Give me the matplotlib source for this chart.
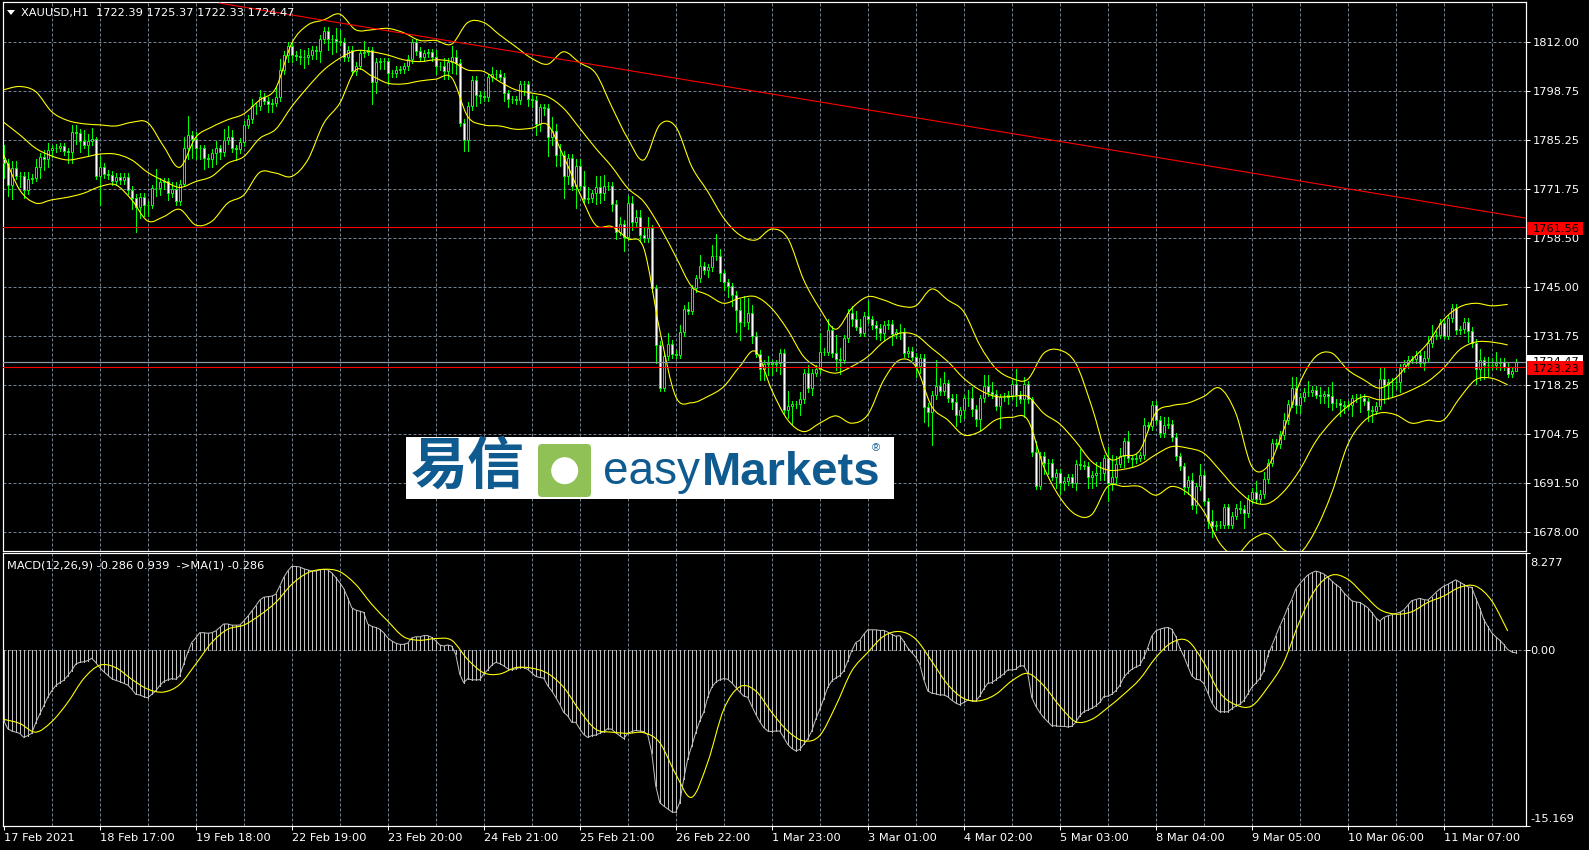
import numpy as np
import matplotlib
matplotlib.use('Agg')
import matplotlib.pyplot as plt
from matplotlib.path import Path
from matplotlib.patches import Rectangle, FancyBboxPatch, Circle, Polygon, PathPatch

W, H = 1589, 850

closes = [
    1779, 1773, 1777.5, 1775.5, 1775.5, 1771.5, 1774.5, 1775, 1778, 1780.6, 1780, 1782.5,
    1783, 1783.2, 1783.5, 1782.2, 1782, 1787.4, 1787.3, 1785, 1784, 1785, 1785.5, 1775.5,
    1778, 1776, 1775.7, 1774, 1775.2, 1774.2, 1775.2, 1771.6, 1769.4, 1767, 1769.8, 1767.5,
    1767.6, 1772, 1772.2, 1773.8, 1774, 1770.8, 1771.8, 1768.5, 1773.3, 1783, 1786.7, 1785.4,
    1783, 1783, 1780.3, 1780, 1781.8, 1783, 1782, 1785.3, 1786, 1783, 1782.8, 1784.7,
    1789.5, 1791, 1794.5, 1794.5, 1797, 1796, 1795, 1795.5, 1797, 1804.4, 1808.5, 1811,
    1808.5, 1808.2, 1808, 1808, 1808.5, 1809.9, 1809.5, 1812.9, 1815.2, 1812.9, 1812.8, 1812.4,
    1812.2, 1808, 1809.9, 1804, 1805.6, 1809, 1809.4, 1809.8, 1801.2, 1806.6, 1806.8, 1806.8,
    1803.5, 1803.5, 1804.5, 1804.6, 1805.4, 1807.4, 1812, 1809.6, 1808, 1809, 1809.2, 1807.9,
    1805.4, 1805.6, 1804, 1806.7, 1808, 1806.3, 1790, 1785.3, 1794.6, 1801.7, 1797.6, 1797.4,
    1797, 1802.4, 1803.3, 1803.4, 1802.6, 1798, 1796.4, 1796.4, 1796.2, 1800.5, 1800.5, 1796.5,
    1796.2, 1789.7, 1794.2, 1794, 1786, 1787.6, 1781.2, 1781.2, 1775.3, 1780.3, 1772.7, 1778.2,
    1772.7, 1769, 1769.3, 1770.7, 1772.3, 1770.9, 1772.7, 1772.7, 1767.8, 1760.2, 1762.3, 1758.8,
    1768, 1762.7, 1764.2, 1759.4, 1758.4, 1761.1, 1744.7, 1729.2, 1717.5, 1726.2, 1729.5, 1726.7,
    1726.5, 1732.7, 1739, 1738.6, 1744.7, 1747.4, 1750.8, 1749.7, 1750.4, 1753.5, 1753.4, 1748.8,
    1746.3, 1745.2, 1742.9, 1738.8, 1735.6, 1735.5, 1738, 1731.7, 1726.8, 1722.7, 1724, 1724.2,
    1724, 1724.2, 1727, 1711.3, 1712.5, 1713, 1713, 1714.4, 1721.6, 1717.4, 1721.6, 1722.6,
    1727.4, 1727.4, 1733.3, 1727, 1725.4, 1725.2, 1731, 1737.9, 1736.4, 1734.2, 1732.6, 1737.2,
    1736.2, 1734.7, 1733.8, 1732.5, 1734.7, 1734.9, 1732.2, 1732.7, 1732.8, 1726.9, 1727.6, 1726,
    1723.5, 1725.6, 1712.2, 1710.9, 1715.5, 1718.1, 1716.6, 1718.7, 1714.7, 1713.7, 1710, 1711.3,
    1714.6, 1714.8, 1711.7, 1709, 1714.6, 1718.1, 1716.2, 1715.8, 1712.4, 1714.9, 1715.1, 1715.5,
    1718.5, 1715.5, 1714.4, 1718.4, 1714.4, 1699.8, 1690.7, 1698.9, 1696.9, 1696.9, 1693.2, 1694.3,
    1691.5, 1692, 1693, 1691.4, 1696.7, 1696.4, 1696.2, 1693.2, 1693.7, 1694.3, 1694.3, 1698.2,
    1691.4, 1693.2, 1696.7, 1698.9, 1702.8, 1698.2, 1698, 1698.4, 1699, 1707.2, 1707, 1712.8,
    1708.7, 1705, 1707.4, 1707.6, 1704, 1698.7, 1696, 1690.3, 1692.3, 1685.3, 1690.5, 1693.7,
    1686.4, 1681, 1679.6, 1680, 1680, 1684.8, 1680, 1682.5, 1684.6, 1684.3, 1683.2, 1687.1,
    1689.1, 1687.1, 1688.4, 1692.5, 1697, 1702.4, 1702, 1704.6, 1708.7, 1713.1, 1717.4, 1712.7,
    1715, 1716.3, 1716.2, 1716.9, 1715.6, 1715.2, 1715.7, 1715.2, 1713.3, 1713.3, 1712.8, 1712.6,
    1712.8, 1714.6, 1714.8, 1714.8, 1713.8, 1711.5, 1711.2, 1712.6, 1719.9, 1718.3, 1719, 1719.2,
    1719.2, 1722.9, 1724, 1725.2, 1725.3, 1726.5, 1724.4, 1725.6, 1729.7, 1731.7, 1732, 1735.3,
    1731.7, 1736.5, 1739.3, 1733.3, 1733.5, 1735.6, 1733, 1729.7, 1722.6, 1725, 1723.8, 1723.7,
    1723.6, 1724.4, 1724.5, 1723.3, 1721.3, 1722.1, 1724.47,
]
first_open = 1780
wick_up = [
    4, 1, 2, 2, 1, 1, 2, 1, 2, 1, 2, 2,
    1, 1, 1, 1, 1, 2, 2, 1, 3, 2, 3, 0.5,
    3, 1, 1, 1, 1, 1, 1, 1, 1, 1, 1, 1,
    1, 1, 5, 1, 1, 1, 2, 2, 1, 3, 5, 1,
    2, 1, 1, 1, 1, 2, 1, 3, 3, 2, 1, 1,
    1, 1, 2, 1, 2, 1, 1, 1, 3, 3, 1, 1,
    1, 1, 2, 2, 2, 1, 1, 1, 1, 1, 1, 3,
    3, 1, 1, 1, 1, 1, 3, 1, 1, 1, 1, 1,
    1, 1, 1, 1, 1, 1, 1, 1, 1, 1, 1, 1,
    2, 1, 2, 1, 3, 2, 1, 1, 1, 1, 1, 1,
    1, 1, 2, 1, 1, 1, 1, 1, 1, 1, 1, 1,
    1, 1, 1, 1, 1, 4, 2, 3, 1, 1, 1, 2,
    2, 4, 3, 1, 3, 3, 3, 1, 1, 1, 2, 1,
    2, 2, 2, 2, 2, 3, 1, 1, 1, 1, 3, 1,
    1, 2, 1, 2, 1, 1, 3, 1, 1, 3, 6, 2,
    1, 1, 1, 1, 3, 7, 4, 2, 1, 1, 1, 2,
    1, 1, 1, 1, 4, 1, 1, 2, 1, 2, 1, 1,
    5, 1, 3, 1, 5, 3, 1, 1, 2, 2, 2, 1,
    4, 1, 1, 1, 1, 1, 1, 1, 2, 1, 1, 1,
    1, 1, 1, 1, 1, 7, 2, 3, 1, 1, 2, 1,
    1, 2, 3, 1, 1, 3, 3, 3, 1, 1, 1, 1,
    1, 4, 1, 2, 1, 0.5, 3, 1, 1, 1, 1, 1,
    1, 1, 1, 1, 1, 4, 1, 1, 1, 3, 3, 1,
    3, 6, 2, 2, 1, 3, 1, 1, 1, 2, 1, 1,
    1, 1, 2, 2, 1, 1, 1, 1, 1, 2, 1, 3,
    1, 1, 3, 1, 1, 1, 1, 1, 1, 2, 1, 1,
    1, 3, 1, 2, 1, 1, 1, 1, 2, 1, 3, 3,
    1, 1, 3, 1, 1, 2, 1, 2, 4, 1, 1, 1,
    1, 1, 1, 1, 1, 1, 1, 1, 3, 3, 1, 1,
    1, 1, 1, 1, 1, 1, 1, 2, 2, 3, 1, 1,
    1, 1, 1, 1, 1, 1, 1, 1, 1, 3, 1, 2,
    2, 3, 1, 1, 1, 1, 0.9,
]
wick_dn = [
    4, 3, 4, 1, 3, 2, 1, 1, 1, 3, 3, 2,
    2, 1, 1, 1, 3, 3, 3, 3, 1, 3, 1, 1,
    8, 1, 1, 1, 1, 1, 1, 1, 3, 7, 3, 3,
    3, 1, 2, 2, 2, 2, 1, 1, 1, 0.5, 3, 5,
    3, 3, 3, 2, 2, 3, 2, 1, 1, 1, 3, 1,
    1, 1, 1, 2, 1, 1, 2, 2, 1, 1, 1, 2,
    2, 1, 2, 3, 2, 1, 2, 3, 1, 3, 4, 3,
    1, 1, 1, 1, 1, 1, 1, 1, 6, 3, 2, 2,
    3, 1, 1, 1, 1, 1, 1, 1, 1, 1, 1, 1,
    2, 1, 2, 2, 3, 3, 1, 3, 3, 1, 3, 2,
    1, 1, 1, 1, 1, 2, 2, 1, 1, 1, 3, 2,
    2, 3, 2, 2, 5, 2, 3, 3, 6, 2, 1, 6,
    1, 1, 1, 1, 3, 3, 2, 1, 2, 2, 1, 4,
    1, 2, 1, 2, 1, 1, 1, 5, 1, 1, 1, 1,
    1, 1, 1, 1, 1, 1, 1, 1, 2, 1, 1, 2,
    2, 3, 3, 6, 5, 1, 2, 2, 1, 3, 3, 3,
    3, 2, 3, 1, 2, 5, 1, 3, 1, 1, 2, 1,
    1, 1, 1, 1, 3, 4, 1, 1, 2, 1, 1, 1,
    1, 1, 3, 2, 2, 1, 3, 1, 2, 1, 1, 1,
    3, 2, 4, 4, 9, 1, 1, 1, 1, 2, 3, 2,
    2, 2, 2, 2, 3, 1, 1, 1, 1, 6, 1, 2,
    1, 3, 1, 5, 1, 1, 1, 1, 3, 3, 1, 3,
    3, 2, 1, 1, 2, 1, 1, 3, 3, 3, 2, 2,
    5, 2, 2, 1, 3, 1, 2, 1, 1, 1, 1, 1,
    1, 1, 1, 1, 1, 1, 1, 2, 2, 1, 2, 1,
    1, 2, 3, 1, 1, 1, 1, 1, 1, 1, 4, 1,
    1, 1, 1, 1, 1, 1, 1, 1, 1, 1, 1, 2,
    2, 1, 1, 1, 1, 2, 2, 3, 2, 1, 3, 2,
    1, 3, 1, 4, 1, 3, 3, 1, 1, 5, 4, 4,
    2, 3, 1, 1, 1, 1, 1, 2, 1, 1, 1, 1,
    1, 1, 1, 1, 1, 1, 3, 1, 4, 3, 4, 3,
    1, 1, 2, 1, 1, 1, 0.1,
]

# bollinger bands, one reading every 4 bars
bb_upper = [
    1799, 1799.9, 1798.5, 1793, 1790.6, 1789.7, 1789.4, 1789.1, 1790.1, 1790, 1783.5, 1777.8,
    1786, 1788.8, 1790.8, 1792.4, 1796.2, 1799.4, 1811.7, 1816.7, 1818.1, 1819.7, 1815.4, 1815.4,
    1815.8, 1814.6, 1812.5, 1812.5, 1811.5, 1817.4, 1817.4, 1814, 1810.8, 1807.6, 1806, 1809.4,
    1806.4, 1803.5, 1794.4, 1785.7, 1779.8, 1789.4, 1788.9, 1778, 1771.2, 1763.9, 1759.3, 1757.9,
    1760.9, 1758.4, 1747, 1739.2, 1733.5, 1739.2, 1742.4, 1741.5, 1739.9, 1739.9, 1744.5, 1741.5,
    1738.3, 1729.2, 1722.8, 1720.1, 1719.8, 1726.9, 1727.8, 1724.2, 1712.4, 1698.7, 1698.9, 1700.3,
    1710.6, 1712.6, 1713.3, 1715.1, 1717.4, 1710.6, 1696, 1696, 1706, 1718.8, 1726, 1727,
    1722.4, 1719.7, 1717.4, 1720.1, 1725.1, 1729.7, 1736.1, 1739.6, 1740.6, 1739.9, 1740.3,
]
bb_mid = [
    1790.1, 1786.7, 1783, 1780.9, 1779.8, 1780.5, 1781.4, 1781.4, 1779.8, 1776.4, 1774.1, 1772.3,
    1773.9, 1775.3, 1778.9, 1780.7, 1785.7, 1788.2, 1794.4, 1799.7, 1804.4, 1807.6, 1809.7, 1809.4,
    1808.5, 1807.2, 1806.7, 1807.2, 1806.7, 1804.4, 1804, 1801.2, 1799, 1798.1, 1797.1, 1793.9,
    1788.5, 1783, 1778, 1772.1, 1768.4, 1761.6, 1753.4, 1745.2, 1742.9, 1740.6, 1742, 1742.4,
    1739.2, 1733.3, 1726, 1722.8, 1721.5, 1723.3, 1726, 1730.1, 1732.4, 1731.9, 1728.3, 1724.7,
    1720.1, 1716.9, 1715.1, 1715.1, 1715.1, 1710.5, 1707.6, 1702.8, 1697.3, 1695, 1695.2, 1696.4,
    1699.2, 1701.4, 1701, 1699.6, 1695, 1690, 1686.4, 1685.8, 1689.1, 1695, 1702.8, 1708.3,
    1712.4, 1715.1, 1714.2, 1715.1, 1716.9, 1719.2, 1722.9, 1727.9, 1730, 1730, 1729.2,
]
bb_lower = [
    1781.2, 1771.6, 1768, 1768.9, 1769.6, 1770.7, 1772.5, 1773, 1768.9, 1763.1, 1764.3, 1766.3,
    1762, 1763, 1768, 1770.2, 1776.4, 1776.2, 1775.3, 1779.8, 1789.8, 1795.3, 1804.4, 1802.8,
    1800.8, 1800.6, 1801.4, 1801.9, 1802.3, 1791.7, 1789.4, 1789.1, 1788.2, 1788.5, 1789.4, 1780.7,
    1770.7, 1762, 1761.6, 1758.3, 1755.7, 1733.3, 1715.1, 1713.4, 1715.1, 1717.8, 1723.3, 1727.4,
    1716.9, 1708.7, 1705.5, 1707.8, 1709.8, 1707.8, 1710.1, 1719.6, 1725.1, 1723.3, 1712.4, 1708.7,
    1704.6, 1705.5, 1708.7, 1709.4, 1708.7, 1695.9, 1687.6, 1682.8, 1682.8, 1690.5, 1690.5, 1690.5,
    1688.1, 1690.5, 1688.7, 1683.7, 1675, 1671.8, 1675.9, 1677.5, 1673.2, 1672.3, 1678.6, 1688.7,
    1701.9, 1708.3, 1710.6, 1710.1, 1707.8, 1708.6, 1708.7, 1714.7, 1719.7, 1720.1, 1718.3,
]

macd_hist = [
    -6.1, -6.8, -7, -7.1, -7.2, -7.55, -7.4, -7.2, -6.3, -5.55, -4.85, -4.1,
    -3.55, -3.1, -2.85, -2.65, -2.25, -1.8, -1.25, -1.1, -1.05, -0.95, -0.75, -1.1,
    -1.55, -1.9, -2.2, -2.5, -2.65, -2.75, -2.9, -3.05, -3.4, -3.85, -3.9, -4.05,
    -4.15, -3.85, -3.55, -3.1, -2.75, -2.6, -2.5, -2.55, -2.25, -1.25, -0.25, 0.6,
    1, 1.45, 1.45, 1.4, 1.45, 1.6, 1.9, 2.2, 2.2, 2.1, 2.1, 2.1,
    2.45, 2.85, 3.3, 3.75, 4.25, 4.5, 4.55, 4.6, 4.75, 5.45, 6.2, 6.75,
    7.15, 7.15, 7.1, 6.95, 6.85, 6.75, 6.75, 6.85, 6.9, 6.85, 6.6, 6.2,
    5.75, 5.25, 4.45, 3.6, 3.4, 3.3, 3.2, 2.2, 2, 1.9, 1.75, 1.45,
    1, 0.75, 0.55, 0.45, 0.45, 0.55, 1, 1.1, 1.1, 1.2, 1.2, 1.05,
    0.75, 0.4, 0.3, 0.4, 0.3, -0.4, -2.1, -2.85, -2.5, -2.6, -2.6, -2.6,
    -2.1, -1.75, -1.35, -1.1, -1.2, -1.4, -1.65, -1.75, -1.65, -1.55, -1.55, -1.7,
    -2, -2.3, -2.4, -2.45, -3.1, -3.55, -4.1, -4.7, -5.4, -5.7, -6.25, -6.25,
    -6.8, -7.3, -7.55, -7.4, -7.35, -7.2, -7.05, -6.8, -6.85, -7.15, -7.4, -7.65,
    -7.2, -7.05, -6.95, -7, -7.05, -7.3, -8.85, -11.7, -13.15, -13.45, -13.7, -13.95,
    -14, -13.15, -11.15, -9.4, -8.3, -7.15, -6.15, -5.4, -4.1, -3.25, -2.8, -2.6,
    -2.5, -2.55, -2.85, -3.25, -3.65, -4, -4.1, -4.85, -5.55, -6.2, -6.7, -7,
    -7.05, -7, -7, -7.55, -8.15, -8.5, -8.7, -8.6, -8.15, -7.7, -7, -6,
    -5.15, -4.25, -3.25, -2.7, -2.45, -2.25, -1.85, -1, -0.1, 0.6, 0.8, 1.3,
    1.7, 1.7, 1.7, 1.65, 1.65, 1.5, 1.3, 1.15, 1.2, 0.7, 0.15, -0.25,
    -0.65, -1.25, -2.55, -3.55, -3.75, -3.8, -3.9, -3.9, -4.05, -4.35, -4.6, -4.75,
    -4.55, -4.35, -4.4, -4.45, -4, -3.4, -2.9, -2.85, -2.6, -2.35, -2.1, -1.75,
    -1.75, -1.7, -1.4, -1.4, -2, -4.1, -4.85, -5.4, -5.85, -6.2, -6.55, -6.55,
    -6.6, -6.6, -6.65, -6.6, -6.25, -5.7, -5.35, -5.2, -5.05, -4.85, -4.55, -4.05,
    -4, -3.85, -3.55, -3.1, -2.4, -2, -1.7, -1.5, -1.35, -0.7, 0.15, 1.15,
    1.6, 1.75, 1.85, 1.9, 1.75, 1.15, 0.15, -0.55, -1.4, -2.25, -2.55, -2.6,
    -2.9, -3.7, -4.55, -5.1, -5.35, -5.35, -5.35, -5.1, -4.85, -4.7, -4.4, -3.85,
    -3.25, -2.9, -2.5, -1.85, -0.55, 0.3, 1.15, 2, 2.75, 3.6, 4.3, 5.2,
    5.65, 6.05, 6.4, 6.6, 6.75, 6.65, 6.5, 6.25, 5.9, 5.6, 5.35, 4.9,
    4.55, 4.2, 4.1, 4.05, 3.85, 3.6, 3.2, 2.75, 2.45, 2.75, 2.9, 3,
    3.1, 3.2, 3.4, 3.8, 4.2, 4.3, 4.4, 4.3, 4.25, 4.55, 4.9, 5.2,
    5.45, 5.6, 5.8, 6, 5.8, 5.6, 5.4, 5.35, 4.45, 3.6, 2.6, 2,
    1.45, 1.1, 0.8, 0.45, 0, -0.2, -0.286,
]
# signal line, one reading every 4 bars
macd_signal = [
    -6, -6.35, -7.1, -6.2, -4.55, -2.5, -1.35, -1.55, -2.55, -3.4, -3.65, -3,
    -1.25, 0.6, 1.75, 2.1, 2.95, 4.05, 5.6, 6.6, 6.9, 6.7, 5.6, 3.9,
    2.45, 1.1, 0.8, 0.95, 0.8, -0.85, -2, -2.1, -1.55, -1.6, -2.05, -3.25,
    -5.25, -6.85, -7.1, -7.2, -7.15, -8, -10.7, -12.7, -9.7, -5.15, -3.2, -3.55,
    -5.4, -7, -7.85, -7.4, -4.85, -1.85, -0.25, 1.15, 1.55, 0.9, -1, -3,
    -4.2, -4.4, -3.85, -2.7, -2.05, -3.1, -4.85, -6.2, -6, -5, -3.85, -2.55,
    -0.7, 0.6, 0.75, -1.1, -3.7, -4.75, -4.85, -3.25, -1.1, 2.45, 5.2, 6.4,
    6.05, 4.75, 3.45, 3.05, 3.25, 4.05, 4.6, 5.35, 5.45, 4.2, 1.6,
]

price_ticks = [1812.00, 1798.75, 1785.25, 1771.75, 1758.50, 1745.00, 1731.75, 1718.25, 1704.75, 1691.50, 1678.00]
date_labels = ['17 Feb 2021', '18 Feb 17:00', '19 Feb 18:00', '22 Feb 19:00', '23 Feb 20:00', '24 Feb 21:00',
               '25 Feb 21:00', '26 Feb 22:00', '1 Mar 23:00', '3 Mar 01:00', '4 Mar 02:00', '5 Mar 03:00',
               '8 Mar 04:00', '9 Mar 05:00', '10 Mar 06:00', '11 Mar 07:00']
resistance = 1761.56
support = 1723.23
bid = 1724.47
trend_x = [54, 380.5]
trend_y = [1822.7, 1763.9]

GRID = '#708090'
GREEN = '#00ff00'
YELLOW = '#ffff00'
RED = '#ff0000'
BLUE = '#0f5a8e'
PX = 0.72
FS = 8.2


def pane(left, top, right, bottom):
    a = fig.add_axes([left / W, 1 - bottom / H, (right - left) / W, (bottom - top) / H])
    a.set_facecolor('black')
    for s in a.spines.values():
        s.set_color('white')
        s.set_linewidth(PX * 1.2)
    return a


def curve(a, values, zorder):
    # bezier path through the readings, the bands are drawn smooth in the terminal
    pts = np.column_stack([np.arange(len(values)) * 4.0, values])
    verts = [pts[0]]
    for k in range(len(pts) - 1):
        before = pts[max(k - 1, 0)]
        after = pts[min(k + 2, len(pts) - 1)]
        verts += [pts[k] + (pts[k + 1] - before) / 6, pts[k + 1] - (after - pts[k]) / 6, pts[k + 1]]
    codes = [Path.MOVETO] + [Path.CURVE4] * (len(verts) - 1)
    a.add_patch(PathPatch(Path(verts, codes), fill=False, edgecolor=YELLOW, lw=PX * 1.1, zorder=zorder))


fig = plt.figure(figsize=(W / 100, H / 100), dpi=100, facecolor='black')
ax = pane(2.6, 2.4, 1525.6, 551.3)
ax2 = pane(2.6, 553.3, 1525.6, 826)

bars = np.arange(len(closes))
c = np.array(closes, dtype=float)
o = np.r_[first_open, c[:-1]]
top = np.maximum(o, c)
low = np.minimum(o, c)
xlim = ((2.6 - 3.7) / 4, (1525.6 - 3.7) / 4)

ax.set_xlim(xlim)
ax.set_ylim(1672.76, 1822.9)
for i in range(12, 379, 12):
    ax.axvline(i, color=GRID, lw=PX, ls=(0, (3, 2)), zorder=1)
    ax2.axvline(i, color=GRID, lw=PX, ls=(0, (3, 2)), zorder=1)
for p in price_ticks:
    ax.axhline(p, color=GRID, lw=PX, ls=(0, (3, 2)), zorder=1)

ax.vlines(bars, low - np.array(wick_dn), top + np.array(wick_up), color=GREEN, lw=PX, zorder=3, antialiased=False)
up = c >= o
ax.bar(bars[up], (top - low)[up], bottom=low[up], width=0.5, facecolor='black', edgecolor=GREEN, lw=PX, zorder=4)
ax.bar(bars[~up], (top - low)[~up], bottom=low[~up], width=0.5, facecolor='white', edgecolor=GREEN, lw=PX, zorder=4)

for band in (bb_upper, bb_mid, bb_lower):
    curve(ax, band, 5)

ax.axhline(bid, color='#8c9aa8', lw=PX * 1.2, zorder=6)
ax.axhline(resistance, color=RED, lw=PX * 1.1, zorder=6)
ax.axhline(support, color=RED, lw=PX * 1.1, zorder=6)
ax.plot(trend_x, trend_y, color=RED, lw=PX * 1.1, zorder=6)

ax.set_xticks([])
ax.yaxis.tick_right()
ax.set_yticks(price_ticks)
ax.set_yticklabels(['%.2f' % p for p in price_ticks])
ax.tick_params(axis='y', colors='white', length=3, width=PX, pad=2, labelsize=FS)

ax2.set_xlim(xlim)
ax2.set_ylim(-15.169, 8.277)
ax2.axhline(0, color=GRID, lw=PX, ls=(0, (3, 2)), zorder=1)
ax2.vlines(bars, 0, macd_hist, color='#c0c0c0', lw=PX, zorder=3, antialiased=False)
ax2.plot(bars, macd_hist, color='#c0c0c0', lw=PX, zorder=3)
curve(ax2, macd_signal, 4)
ax2.yaxis.tick_right()
ax2.set_yticks([8.277, 0, -15.169])
ax2.set_yticklabels([])
ax2.set_xticks(np.arange(len(date_labels)) * 24)
ax2.set_xticklabels(date_labels, ha='left')
ax2.tick_params(axis='both', colors='white', length=3, width=PX, labelsize=FS)
ax2.tick_params(axis='x', pad=2)

# everything placed by pixel: legends, price flags, logo
ov = fig.add_axes([0, 0, 1, 1])
ov.set_xlim(0, W)
ov.set_ylim(H, 0)
ov.axis('off')
ov.patch.set_alpha(0)

ov.add_patch(Polygon([[7, 10], [15, 10], [11, 15]], facecolor='white', edgecolor='none'))
ov.text(21, 13, 'XAUUSD,H1  1722.39 1725.37 1722.33 1724.47', color='white', fontsize=FS, va='center')
ov.text(7.4, 565, 'MACD(12,26,9) -0.286 0.939  ->MA(1) -0.286', color='white', fontsize=FS, va='center')

ov.text(1530, 562.5, '8.277', color='white', fontsize=FS, va='center')
ov.text(1530, 650.5, '0.00', color='white', fontsize=FS, va='center')
ov.text(1530, 818.5, '-15.169', color='white', fontsize=FS, va='center')

ov.add_patch(Rectangle((1527, 221.7), 56, 13.5, facecolor=RED, edgecolor='none', zorder=5))
ov.text(1533, 228.8, '%.2f' % resistance, color='black', fontsize=FS, va='center', zorder=6)
ov.add_patch(Rectangle((1527, 355), 56, 8, facecolor='white', edgecolor='none', zorder=5))
ov.text(1533, 362, '%.2f' % bid, color='black', fontsize=FS, va='center', zorder=6)
ov.add_patch(Rectangle((1527, 361), 56, 14, facecolor=RED, edgecolor='none', zorder=7))
ov.text(1533, 368.5, '%.2f' % support, color='black', fontsize=FS, va='center', zorder=8)

ov.add_patch(Rectangle((406, 437), 487.5, 62, facecolor='white', edgecolor='none', zorder=10))
ov.add_patch(FancyBboxPatch((541, 447), 47, 47, boxstyle='round,pad=3,rounding_size=4',
                            facecolor='#8fc156', edgecolor='none', zorder=11))
ov.add_patch(Circle((564.7, 470.7), 13.5, facecolor='white', edgecolor='none', zorder=12))
ov.text(468, 467, '易信', color=BLUE, fontsize=41, weight='bold', family=['Noto Sans CJK SC', 'DejaVu Sans'],
        ha='center', va='center', zorder=11)
ov.text(603, 484, 'easy', color=BLUE, fontsize=33, family='Liberation Sans', va='baseline', zorder=11)
ov.text(702, 485, 'Markets', color=BLUE, fontsize=34, family='Liberation Sans', weight='bold', va='baseline', zorder=11)
ov.text(876, 448, '®', color=BLUE, fontsize=8, family='Liberation Sans', ha='center', va='center', zorder=11)

fig.savefig('out.png', dpi=100, facecolor='black')
